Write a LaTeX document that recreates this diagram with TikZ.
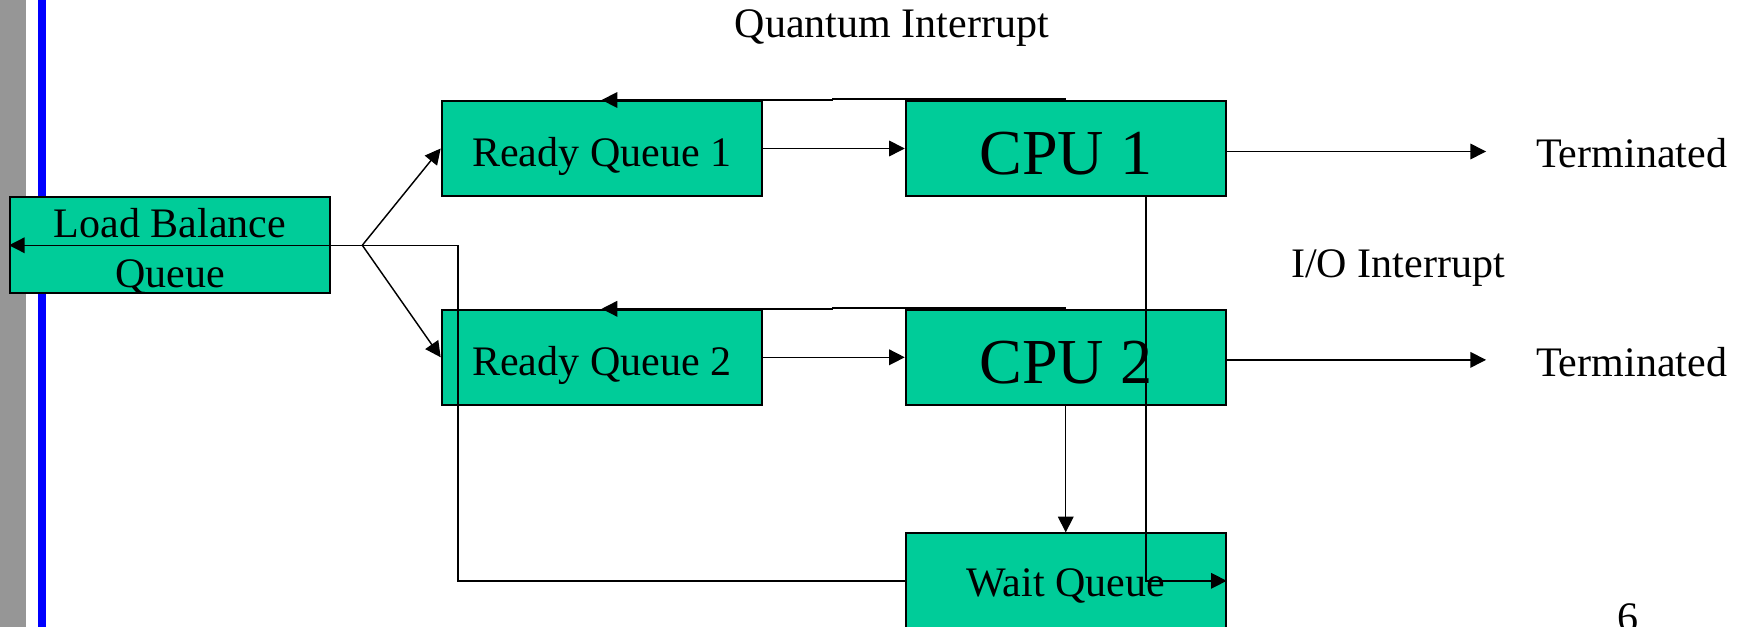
\documentclass[tikz,border=0pt]{standalone}
\usepackage{fontspec}
\setmainfont{Liberation Serif}
\usetikzlibrary{arrows.meta}
\definecolor{boxgreen}{RGB}{0,204,153}
\definecolor{railgray}{RGB}{150,150,150}
\definecolor{railblue}{RGB}{0,0,255}

\begin{document}
\begin{tikzpicture}[x=1pt,y=-1pt,
  stage/.style={draw=black, line width=1.8pt, fill=boxgreen,
    minimum width=287pt, minimum height=85.2pt, inner sep=0pt,
    font=\fontsize{37.7}{45}\selectfont},
  queuebox/.style={stage, text height=40.6pt, text depth=8pt},
  cpubox/.style={stage, font=\fontsize{57.5}{70}\selectfont,
    text height=57pt, text depth=10pt},
  lbl/.style={inner sep=0pt, font=\fontsize{37.7}{45}\selectfont},
  termlbl/.style={lbl, anchor=base west, text height=29pt, text depth=0pt},
  flow/.style={line width=1.3pt, -{Triangle[length=14pt,width=14pt]}}]

\useasboundingbox (0,0) rectangle (1568,562);
\clip (0,0) rectangle (1568,562);

% slide rails on the left
\fill[railgray] (0,0) rectangle (23.3,562);
\fill[railblue] (34.4,0) rectangle (41,562);

% helper x positions for the routed wires
\coordinate (retx) at (411,0);
\coordinate (iox) at (1028,0);
\coordinate (qstep) at (747,0);

% boxes
\node[stage, minimum height=86pt, align=center, text height=80pt, text depth=4pt]
  (lb) at (152.5,220) {Load Balance\\Queue};
\node[queuebox] (rq1) at (539.7,133.2) {Ready Queue 1};
\node[queuebox] (rq2) at (539.7,320.5) {Ready Queue 2};
\node[cpubox] (cpu1) at (956,133.2) {CPU 1};
\node[cpubox] (cpu2) at (956,320.5) {CPU 2};
\node[queuebox, text height=36pt, text depth=8pt] (wq) at (956,521) {Wait Queue};

% free labels
\node[lbl, anchor=base] (qi) at (800,33.5) {Quantum Interrupt};
\node[lbl, anchor=base] (io) at (1254,248.5) {I/O Interrupt};
\node[termlbl] (term1) at (1377.8,150.4) {Terminated};
\node[termlbl] (term2) at (1377.8,337.3) {Terminated};
\node[lbl, anchor=base] (page) at (1460,566.5) {6};

% return path from the wait queue back to the load balancer
\coordinate (fork) at (325,220);
\draw[flow] (wq.west) -| (lb.west -| retx) -- (lb.west);

% load balancer dispatch
\draw[flow] (fork) -- (rq1.west);
\draw[flow] (fork) -- (rq2.west);

% queues to processors
\draw[flow] (rq1.east) -- (cpu1.west);
\draw[flow] (rq2.east) -- (cpu2.west);

% quantum expiry back to the ready queues
\draw[flow] ([yshift=0.8pt]cpu1.north) -- ([yshift=0.8pt]cpu1.north -| qstep)
  -- (rq1.north -| qstep) -- (rq1.north);
\draw[flow] ([yshift=0.8pt]cpu2.north) -- ([yshift=0.8pt]cpu2.north -| qstep)
  -- (rq2.north -| qstep) -- (rq2.north);

% completion
\draw[flow] (cpu1.east |- term1.west) -- ([xshift=-44.8pt]term1.west);
\draw[flow] (cpu2.east |- term2.west) -- ([xshift=-44.8pt]term2.west);

% I/O requests
\draw[flow] (cpu2.south) -- (wq.north);
\draw[flow] (cpu1.south -| iox) |- (wq.east);
\end{tikzpicture}
\end{document}
